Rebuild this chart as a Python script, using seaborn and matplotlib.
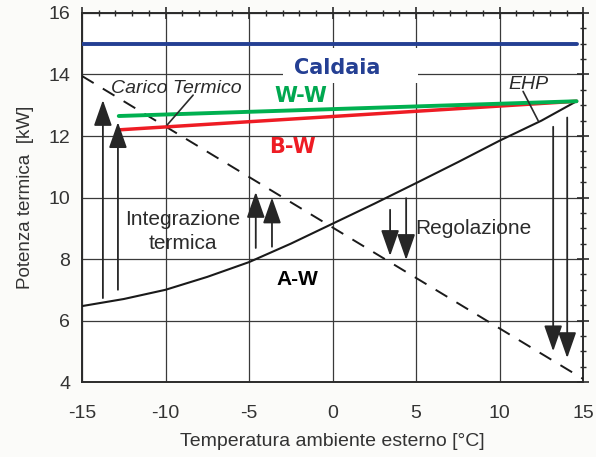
import matplotlib
matplotlib.use("Agg")
import matplotlib.pyplot as plt
from matplotlib.patches import Rectangle
from matplotlib.ticker import MultipleLocator
import seaborn as sns
import pandas as pd

# Outdoor temperature [°C] and heating power [kW]
caldaia_t = [-15.0, 14.6]
caldaia_p = [15.0, 15.0]

ww_t = [-12.8, 14.6]
ww_p = [12.65, 13.13]

bw_t = [-12.8, 14.6]
bw_p = [12.2, 13.13]

aw_t = [-15.0, -12.5, -10.0, -7.5, -5.0, -2.5, 0.0, 2.5, 5.0, 7.5, 10.0, 12.5, 14.6]
aw_p = [6.47, 6.7, 7.0, 7.42, 7.9, 8.5, 9.15, 9.8, 10.47, 11.15, 11.85, 12.5, 13.13]

carico_t = [-15.0, 15.0]
carico_p = [13.95, 4.1]

# Vertical arrows: (temperature, start power, end power)
arrows_up = [(-13.75, 6.73, 13.17), (-12.85, 7.0, 12.45),
             (-4.6, 8.36, 10.18), (-3.63, 8.4, 10.0)]
arrows_down = [(3.44, 9.6, 8.1), (4.4, 9.98, 7.97),
               (13.2, 12.3, 5.0), (14.04, 12.6, 4.78)]

x_ticks = [-15, -10, -5, 0, 5, 10, 15]
y_ticks = [4, 6, 8, 10, 12, 14, 16]

sns.set_theme(style="white")
plt.rcParams["font.family"] = ["Liberation Sans", "DejaVu Sans"]

ink = "#2b2b2b"
fig = plt.figure(figsize=(5.96, 4.57), dpi=100, facecolor="#fbfbf9")
ax = fig.add_axes([0.1376, 0.164, 0.841, 0.8076])
ax.set_facecolor("white")

ax.set_xlim(-15, 15)
ax.set_ylim(4, 16)
ax.set_xticks(x_ticks)
ax.set_yticks(y_ticks)
ax.xaxis.set_minor_locator(MultipleLocator(1))
ax.yaxis.set_minor_locator(MultipleLocator(0.5))
ax.grid(True, which="major", color="#3a3a3a", lw=0.9, zorder=0)
ax.set_axisbelow(True)
for s in ax.spines.values():
    s.set_color(ink)
    s.set_linewidth(1.4)
ax.tick_params(which="major", direction="inout", length=9, width=1.2, colors=ink,
               top=True, right=True, labelsize=14, pad=4)
ax.tick_params(axis="x", which="major", pad=12)
ax.tick_params(which="minor", direction="inout", length=5, width=1.0, colors=ink,
               top=True, right=True)
ax.set_xticklabels([str(v) for v in x_ticks], color="#333333")
ax.set_yticklabels([str(v) for v in y_ticks], color="#333333")

# White backing behind the boiler label
ax.add_patch(Rectangle((-2.96, 13.72), 8.08, 1.14, facecolor="white",
                       edgecolor="none", zorder=1.5))

def draw(t, p, **kw):
    df = pd.DataFrame({"t": t, "p": p})
    sns.lineplot(data=df, x="t", y="p", ax=ax, sort=False, estimator=None, **kw)

draw(carico_t, carico_p, color="#1a1a1a", lw=1.4, zorder=3, linestyle=(0, (7, 5.5)))
draw(aw_t, aw_p, color="#1a1a1a", lw=1.5, zorder=3)
draw(caldaia_t, caldaia_p, color="#243f93", lw=2.8, zorder=4)
draw(bw_t, bw_p, color="#ee1c24", lw=2.5, zorder=4)
draw(ww_t, ww_p, color="#00b050", lw=2.8, zorder=4)

for t, p0, p1 in arrows_up + arrows_down:
    ax.annotate("", xy=(t, p1), xytext=(t, p0),
                arrowprops=dict(arrowstyle="-|>,head_length=0.8,head_width=0.28",
                                color="#262626", lw=1.3, shrinkA=0, shrinkB=0,
                                mutation_scale=20), zorder=5)

# Curve labels and pointers
ax.text(-9.35, 13.55, "Carico Termico", fontsize=14, style="italic", color=ink,
        ha="center", va="center", zorder=6)
ax.plot([-8.35, -9.9], [13.33, 12.36], color=ink, lw=1.2, zorder=6)
ax.text(11.75, 13.68, "EHP", fontsize=14, style="italic", color=ink,
        ha="center", va="center", zorder=6)
ax.plot([11.4, 12.3], [13.45, 12.5], color=ink, lw=1.2, zorder=6)

ax.text(-8.95, 9.27, "Integrazione", fontsize=15, color=ink, ha="center", va="center", zorder=6)
ax.text(-8.95, 8.5, "termica", fontsize=15, color=ink, ha="center", va="center", zorder=6)
ax.text(8.4, 9.0, "Regolazione", fontsize=15, color=ink, ha="center", va="center", zorder=6)

ax.text(0.27, 14.21, "Caldaia", fontsize=15, fontweight="bold", color="#243f93",
        family="DejaVu Sans", ha="center", va="center", zorder=6)
ax.text(-1.9, 13.3, "W-W", fontsize=15, fontweight="bold", color="#00a850",
        family="DejaVu Sans", ha="center", va="center", zorder=6)
ax.text(-2.4, 11.64, "B-W", fontsize=15, fontweight="bold", color="#ee1c24",
        family="DejaVu Sans", ha="center", va="center", zorder=6)
ax.text(-2.13, 7.32, "A-W", fontsize=15, fontweight="bold", color="black",
        ha="center", va="center", zorder=6)

ax.set_xlabel("Temperatura ambiente esterno [°C]", fontsize=14, color="#333333", labelpad=8)
ax.set_ylabel("Potenza termica  [kW]", fontsize=13.5, color="#333333", labelpad=10)

fig.savefig("out.png", dpi=100, facecolor=fig.get_facecolor())
